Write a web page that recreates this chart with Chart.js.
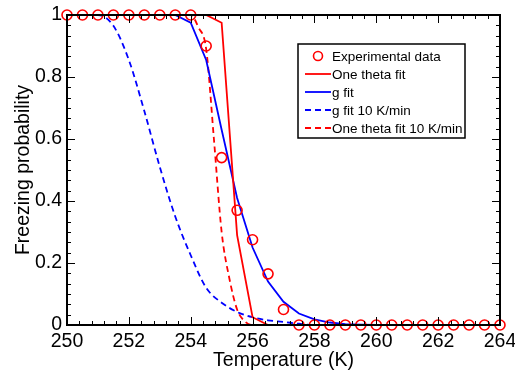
<!DOCTYPE html>
<html>
<head>
<meta charset="utf-8">
<script src="https://cdn.jsdelivr.net/npm/chart.js@4.4.1/dist/chart.umd.min.js"></script>
<style>
  body { margin: 0; background: #fff; }
</style>
</head>
<body>
<canvas id="graph" width="515" height="370"></canvas>
<script>
// temperatures (K) at 0.5 K steps
var temps = [250, 250.5, 251, 251.5, 252, 252.5, 253, 253.5, 254, 254.5, 255, 255.5, 256, 256.5, 257,
             257.5, 258, 258.5, 259, 259.5, 260, 260.5, 261, 261.5, 262, 262.5, 263, 263.5, 264];

var expProb = [1, 1, 1, 1, 1, 1, 1, 1, 1, 0.9, 0.54, 0.37, 0.275, 0.165, 0.05,
               0, 0, 0, 0, 0, 0, 0, 0, 0, 0, 0, 0, 0, 0];

var oneThetaProb = [1, 1, 1, 1, 1, 1, 1, 1, 1, 1, 0.975, 0.29, 0.025, 0, 0,
                    0, 0, 0, 0, 0, 0, 0, 0, 0, 0, 0, 0, 0, 0];

var gFitProb = [1, 1, 1, 1, 1, 1, 1, 1, 0.975, 0.855, 0.63, 0.41, 0.25, 0.14, 0.075,
                0.037, 0.018, 0.008, 0.003, 0.001, 0, 0, 0, 0, 0, 0, 0, 0, 0];

var gFit10Prob = [1, 1, 1, 0.965, 0.855, 0.69, 0.51, 0.35, 0.225, 0.12, 0.072, 0.042, 0.025, 0.015, 0.01,
                  0.004, 0, 0, 0, 0, 0, 0, 0, 0, 0, 0, 0, 0, 0];

// the 10 K/min one theta curve is steep, so it has its own finer temperatures
var oneTheta10Temps = [250, 254, 254.25, 254.5, 254.75, 255, 255.25, 255.5, 255.75, 256, 264];
var oneTheta10Prob = [1, 1, 0.96, 0.89, 0.6, 0.3, 0.15, 0.05, 0.012, 0, 0];

var xTicks = [250, 252, 254, 256, 258, 260, 262, 264];
var yTicks = [0, 0.2, 0.4, 0.6, 0.8, 1];

var FONT = 'Liberation Sans, Arial, Helvetica, sans-serif';

function toPoints(xs, ys) {
  return xs.map(function (x, i) { return { x: x, y: ys[i] }; });
}

// box + inward ticks on all four sides
const framePlugin = {
  id: 'frame',
  afterDatasetsDraw: function (chart) {
    var ctx = chart.ctx, a = chart.chartArea;
    var xs = chart.scales.x, ys = chart.scales.y;
    ctx.save();
    ctx.strokeStyle = '#000';
    ctx.lineWidth = 1;
    ctx.beginPath();
    for (var i = 0; i <= 35; i++) {
      var px = Math.round(xs.getPixelForValue(250 + i * 0.4)) + 0.5;
      var len = (i % 5 === 0) ? 8 : 4;
      ctx.moveTo(px, a.bottom); ctx.lineTo(px, a.bottom - len);
      ctx.moveTo(px, a.top); ctx.lineTo(px, a.top + len);
    }
    for (var j = 0; j <= 30; j++) {
      var py = Math.round(ys.getPixelForValue(j / 30)) + 0.5;
      var ylen = (j % 6 === 0) ? 8 : 4;
      ctx.moveTo(a.left, py); ctx.lineTo(a.left + ylen, py);
      ctx.moveTo(a.right, py); ctx.lineTo(a.right - ylen, py);
    }
    ctx.stroke();
    ctx.lineWidth = 2;
    ctx.strokeRect(a.left, a.top, a.right - a.left, a.bottom - a.top);
    ctx.restore();
  }
};

// boxed legend inside the plot
const boxLegend = {
  id: 'boxLegend',
  afterDraw: function (chart) {
    var ctx = chart.ctx;
    var x0 = 298, y0 = 44, w = 167, h = 94, rowH = 18;
    ctx.save();
    ctx.fillStyle = '#fff';
    ctx.fillRect(x0, y0, w, h);
    ctx.strokeStyle = '#000';
    ctx.lineWidth = 1.5;
    ctx.strokeRect(x0, y0, w, h);
    ctx.font = '13.5px ' + FONT;
    ctx.textBaseline = 'middle';
    chart.data.datasets.forEach(function (ds, i) {
      var cy = y0 + 12 + i * rowH;
      ctx.strokeStyle = ds.borderColor;
      if (ds.showLine === false) {
        ctx.lineWidth = 1.6;
        ctx.setLineDash([]);
        ctx.beginPath();
        ctx.arc(x0 + 20, cy, 4.5, 0, Math.PI * 2);
        ctx.stroke();
      } else {
        ctx.lineWidth = 1.8;
        ctx.setLineDash(ds.borderDash || []);
        ctx.beginPath();
        ctx.moveTo(x0 + 7, cy);
        ctx.lineTo(x0 + 33, cy);
        ctx.stroke();
      }
      ctx.setLineDash([]);
      ctx.fillStyle = '#000';
      ctx.fillText(ds.label, x0 + 34, cy + 1);
    });
    ctx.restore();
  }
};

const graphData = {
  datasets: [
    {
      label: 'Experimental data',
      data: toPoints(temps, expProb),
      showLine: false,
      borderColor: 'rgb(255, 0, 0)',
      backgroundColor: 'rgba(0, 0, 0, 0)',
      pointRadius: 5,
      pointBorderWidth: 1.6,
      pointBackgroundColor: 'rgba(0, 0, 0, 0)',
      clip: false
    },
    {
      label: 'One theta fit',
      data: toPoints(temps, oneThetaProb),
      borderColor: 'rgb(255, 0, 0)',
      borderWidth: 1.8,
      pointRadius: 0,
      tension: 0
    },
    {
      label: 'g fit',
      data: toPoints(temps, gFitProb),
      borderColor: 'rgb(0, 0, 255)',
      borderWidth: 1.8,
      pointRadius: 0,
      tension: 0
    },
    {
      label: 'g fit 10 K/min',
      data: toPoints(temps, gFit10Prob),
      borderColor: 'rgb(0, 0, 255)',
      borderWidth: 1.8,
      borderDash: [6, 4],
      pointRadius: 0,
      cubicInterpolationMode: 'monotone'
    },
    {
      label: 'One theta fit 10 K/min',
      data: toPoints(oneTheta10Temps, oneTheta10Prob),
      borderColor: 'rgb(255, 0, 0)',
      borderWidth: 1.8,
      borderDash: [6, 4],
      pointRadius: 0,
      cubicInterpolationMode: 'monotone'
    }
  ]
};

const config = {
  type: 'line',
  data: graphData,
  options: {
    responsive: false,
    animation: false,
    devicePixelRatio: 1,
    layout: { padding: { top: 15, right: 15, left: 0, bottom: 0 } },
    plugins: {
      legend: { display: false },
      tooltip: { enabled: false }
    },
    scales: {
      x: {
        type: 'linear',
        min: 250,
        max: 264,
        afterBuildTicks: function (scale) {
          scale.ticks = xTicks.map(function (v) { return { value: v }; });
        },
        afterFit: function (scale) {
          scale.height = 45;
          scale.paddingLeft = 0;
          scale.paddingRight = 0;
        },
        grid: { display: false, drawTicks: false },
        border: { display: false },
        ticks: {
          maxRotation: 0,
          padding: 5,
          color: '#000',
          font: { family: FONT, size: 19.5 }
        },
        title: {
          display: true,
          text: 'Temperature (K)',
          color: '#000',
          font: { family: FONT, size: 19.5, lineHeight: 1 },
          padding: { top: 0, bottom: 0 }
        }
      },
      y: {
        min: 0,
        max: 1,
        afterBuildTicks: function (scale) {
          scale.ticks = yTicks.map(function (v) { return { value: v }; });
        },
        afterFit: function (scale) {
          scale.width = 67;
          scale.paddingTop = 0;
          scale.paddingBottom = 0;
        },
        grid: { display: false, drawTicks: false },
        border: { display: false },
        ticks: {
          padding: 5,
          color: '#000',
          font: { family: FONT, size: 19.5 },
          callback: function (value) { return String(Number(value.toFixed(1))); }
        },
        title: {
          display: true,
          text: 'Freezing probability',
          color: '#000',
          font: { family: FONT, size: 19.5 },
          padding: { top: 12, bottom: 0 }
        }
      }
    }
  },
  plugins: [framePlugin, boxLegend]
};

var myChart = new Chart(document.getElementById('graph'), config);
</script>
</body>
</html>
